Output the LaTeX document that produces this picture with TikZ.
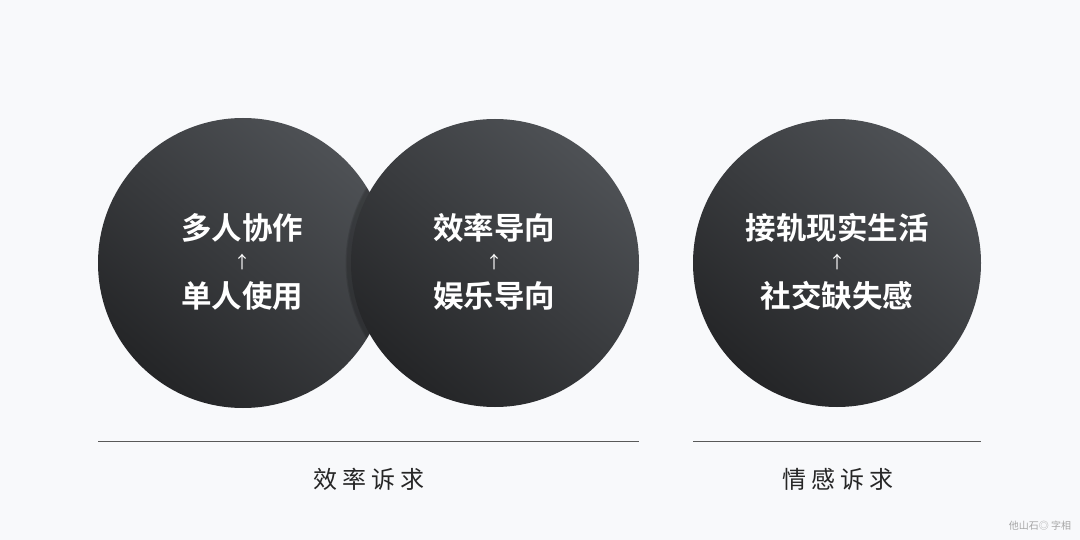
\documentclass[tikz,border=0pt]{standalone}
\usepackage{fontspec}
\newfontfamily\cjk{Noto Sans CJK SC}
\newfontfamily\cjkb{Noto Sans CJK SC Bold}
\newfontfamily\cjksp[LetterSpace=22]{Noto Sans CJK SC}
\begin{document}
\begin{tikzpicture}[x=1pt,y=-1pt,
  disc/.style={top color=circtop, bottom color=circbot, shading angle=-40},
  big/.style={text=white, font=\cjkb\fontsize{30.5}{32}\selectfont, inner sep=0pt},
  arr/.style={text=white, font=\cjk\fontsize{17}{18}\selectfont, inner sep=0pt},
  lab/.style={text=black!85, font=\cjksp\fontsize{24}{26}\selectfont, inner sep=0pt},
  rule/.style={draw=black!65, line width=1pt}]
\definecolor{bg}{HTML}{F8F9FB}
\definecolor{circtop}{HTML}{4E5155}
\definecolor{circbot}{HTML}{242527}
\useasboundingbox (0,0) rectangle (1080,540);
\fill[bg] (0,0) rectangle (1080,540);
% circles
\shade[disc] (243,263) circle (145);
\begin{scope}
\clip (243,263) circle (145);
\foreach \o in {0.10,0.07,0.05}{\fill[black,opacity=\o] (494,263) circle (145.5+\o*30);}
\end{scope}
\shade[disc] (495,263) circle (144);
\shade[disc] (837,263) circle (144);
% circle texts
\node[big] (a1) at (242,228) {多人协作};
\node[arr] (a2) at (242,262) {↑};
\node[big] (a3) at (242,296) {单人使用};
\node[big] (b1) at (494,228) {效率导向};
\node[arr] (b2) at (494,262) {↑};
\node[big] (b3) at (494,296) {娱乐导向};
\node[big] (c1) at (837,228) {接轨现实生活};
\node[arr] (c2) at (837,262) {↑};
\node[big] (c3) at (837,296) {社交缺失感};
% rules
\coordinate (l1a) at (98,441); \coordinate (l1b) at (639,441);
\coordinate (l2a) at (693,441); \coordinate (l2b) at (981,441);
\draw[rule] (l1a) -- (l1b);
\draw[rule] (l2a) -- (l2b);
\node[lab] (t1) at (369,479) {效率诉求};
\node[lab] (t2) at (838,479) {情感诉求};
\node[text=black!35, font=\cjk\fontsize{10}{11}\selectfont, inner sep=0pt] (wm) at (1040,526) {他山石◎ 字相};
\end{tikzpicture}
\end{document}
